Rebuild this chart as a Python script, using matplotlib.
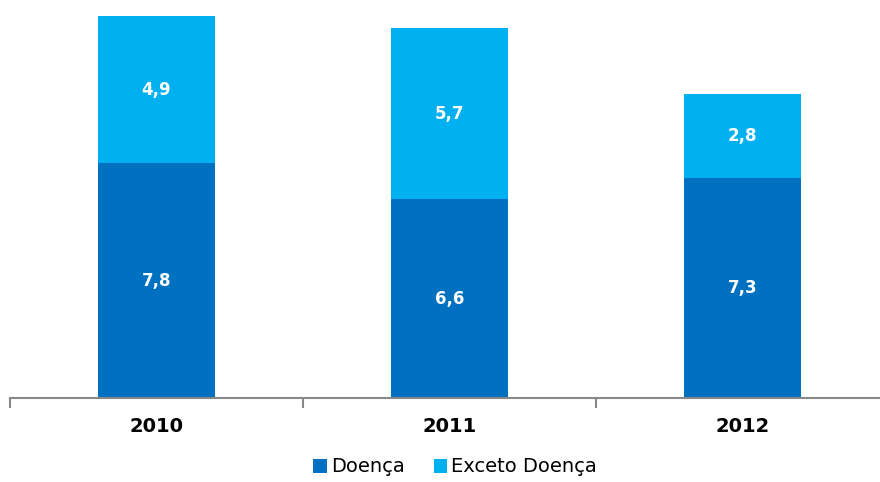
import matplotlib
matplotlib.use("Agg")
import matplotlib.pyplot as plt
import numpy as np

years = ["2010", "2011", "2012"]
doenca = [7.8, 6.6, 7.3]
exceto_doenca = [4.9, 5.7, 2.8]

dark_blue = "#0070C0"
light_blue = "#00B0F0"

fig = plt.figure(figsize=(8.8, 4.82), dpi=100)
ax = fig.add_axes([10 / 880, 84 / 482, 870 / 880, 398 / 482])

x = np.arange(len(years))
width = 0.4
base = np.array(doenca)
ax.bar(x, doenca, width, color=dark_blue, label="Doença", zorder=2)
ax.bar(x, exceto_doenca, width, bottom=base, color=light_blue, label="Exceto Doença", zorder=2)

for xi, lo, hi in zip(x, doenca, exceto_doenca):
    ax.text(xi, lo / 2, f"{lo:.1f}".replace(".", ","), ha="center", va="center",
            color="white", fontsize=12, fontweight="bold")
    ax.text(xi, lo + hi / 2, f"{hi:.1f}".replace(".", ","), ha="center", va="center",
            color="white", fontsize=12, fontweight="bold")

for side in ["top", "right", "left"]:
    ax.spines[side].set_visible(False)
ax.spines["bottom"].set_color("#888888")
ax.spines["bottom"].set_linewidth(1.5)
ax.set_yticks([])

# category ticks sit between the bars
ax.set_xticks(x)
ax.set_xticklabels(years, fontsize=14, fontweight="bold")
ax.tick_params(axis="x", length=0, pad=14)
ax.set_xticks(np.arange(-0.5, 3.0, 1.0), minor=True)
ax.tick_params(axis="x", which="minor", length=7, width=1.5, color="#888888", direction="out")

ax.set_xlim(-0.5, -0.5 + 870 / 293)
ax.set_ylim(0, 13.23)

fig.legend(loc="center", bbox_to_anchor=(455 / 880, 1 - 467 / 482), ncol=2, frameon=False,
           fontsize=14, handlelength=0.7, handleheight=0.7, handletextpad=0.2, columnspacing=1.5)

fig.savefig("out.png", dpi=100)
